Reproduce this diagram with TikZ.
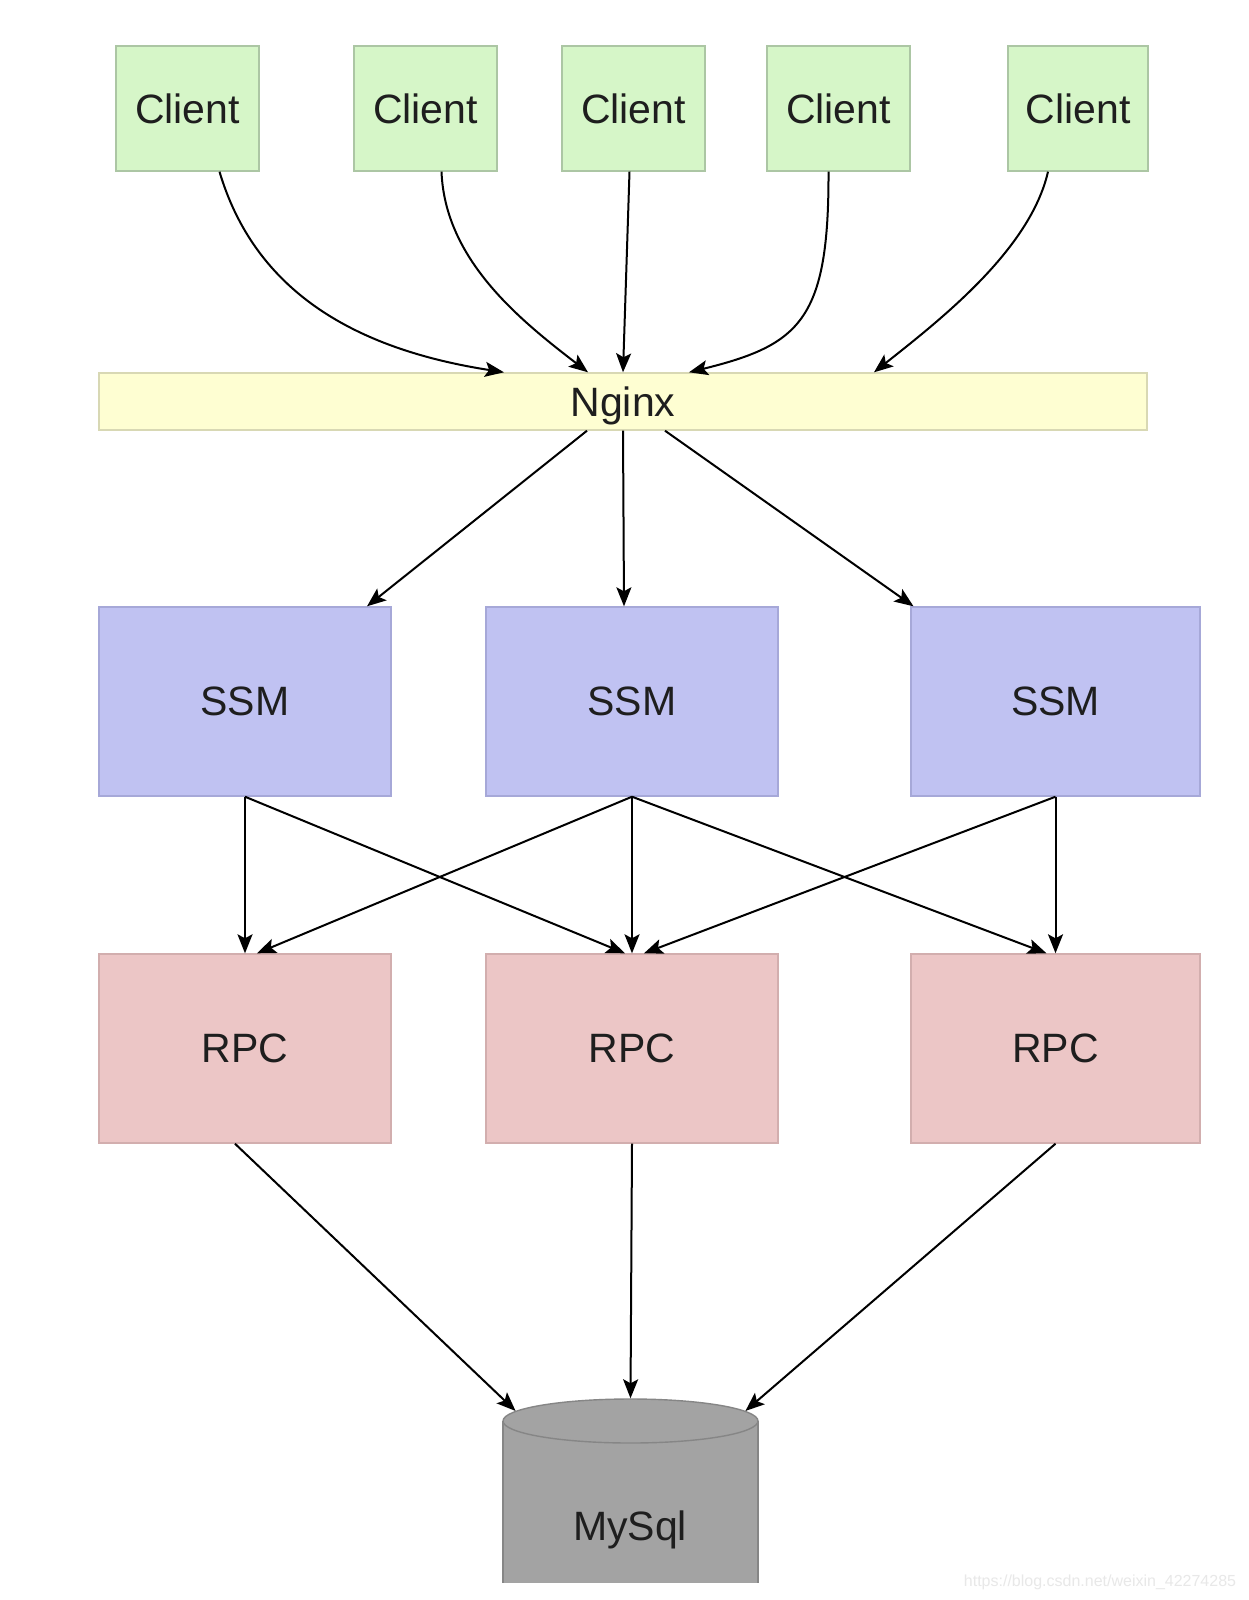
\documentclass[tikz,border=0pt]{standalone}
\usepackage{fontspec}
\setmainfont{Liberation Sans}
\usetikzlibrary{arrows.meta,shapes.geometric}
\definecolor{clientfill}{HTML}{D6F6C8}
\definecolor{clientedge}{HTML}{ACC6A4}
\definecolor{nginxfill}{HTML}{FEFED2}
\definecolor{nginxedge}{HTML}{D8D8B4}
\definecolor{ssmfill}{HTML}{C0C2F2}
\definecolor{ssmedge}{HTML}{A6A8D8}
\definecolor{rpcfill}{HTML}{ECC6C6}
\definecolor{rpcedge}{HTML}{D2AEAE}
\definecolor{dbfill}{HTML}{A3A3A3}
\definecolor{dbedge}{HTML}{868686}
\definecolor{txt}{HTML}{1E1E1E}
\definecolor{wm}{HTML}{E8E8E8}
\begin{document}
\begin{tikzpicture}[x=0.5pt,y=-0.5pt,
  box/.style={draw, line width=0.7pt, inner sep=0pt, text=txt,
    font=\fontsize{20.5pt}{24pt}\selectfont},
  clientbox/.style={box, fill=clientfill, draw=clientedge, minimum width=71.5pt, minimum height=62.5pt},
  nginxbox/.style={box, fill=nginxfill, draw=nginxedge, minimum width=524pt, minimum height=28.5pt, text depth=0pt},
  ssmbox/.style={box, fill=ssmfill, draw=ssmedge, minimum width=146pt, minimum height=94.5pt},
  rpcbox/.style={box, fill=rpcfill, draw=rpcedge, minimum width=146pt, minimum height=94.5pt},
  arr/.style={-{Stealth[length=9.5pt,width=7.5pt,inset=2pt]}, line width=1pt, black}
]
\useasboundingbox (0,0) rectangle (1248,1600);
\fill[white] (0,0) rectangle (1248,1600);

% clients
\node[clientbox] (c1) at (187.5,108.5) {Client};
\node[clientbox] (c2) at (425.5,108.5) {Client};
\node[clientbox] (c3) at (633.5,108.5) {Client};
\node[clientbox] (c4) at (838.5,108.5) {Client};
\node[clientbox, minimum width=70pt] (c5) at (1078,108.5) {Client};

% nginx
\node[nginxbox] (ngx) at (623,401.5) {Nginx};

% SSM
\node[ssmbox] (s1) at (245,701.5) {SSM};
\node[ssmbox] (s2) at (632,701.5) {SSM};
\node[ssmbox, minimum width=144.5pt] (s3) at (1055.5,701.5) {SSM};

% RPC
\node[rpcbox] (r1) at (245,1048.5) {RPC};
\node[rpcbox] (r2) at (632,1048.5) {RPC};
\node[rpcbox, minimum width=144.5pt] (r3) at (1055.5,1048.5) {RPC};

% MySql cylinder
\fill[dbfill] (503,1421) rectangle (758,1583);
\draw[dbedge, line width=0.7pt] (503,1421) -- (503,1583);
\draw[dbedge, line width=0.7pt] (758,1421) -- (758,1583);
\node[ellipse, draw=dbedge, fill=dbfill, line width=0.7pt, inner sep=0pt,
  minimum width=127.5pt, minimum height=22pt] (dbtop) at (630.5,1421) {};
\node[text=txt, font=\fontsize{20.5pt}{24pt}\selectfont] (dbtxt) at (630,1530) {MySql};

% clients -> nginx
\draw[arr] ([xshift=16pt]c1.south) .. controls (255,291) and (354,349) .. ([xshift=-59.5pt]ngx.north);
\draw[arr] ([xshift=8pt]c2.south) .. controls (445,260) and (520,320) .. ([xshift=-17.5pt]ngx.north);
\draw[arr] ([xshift=-2pt]c3.south) -- (ngx.north);
\draw[arr] ([xshift=-5pt]c4.south) .. controls (829,320) and (800,345) .. ([xshift=33pt]ngx.north);
\draw[arr] ([xshift=-15pt]c5.south) .. controls (1030,250) and (940,320) .. ([xshift=125.5pt]ngx.north);

% nginx -> SSM
\draw[arr] ([xshift=-18pt]ngx.south) -- ([xshift=61pt]s1.north);
\draw[arr] (ngx.south) -- ([xshift=-4pt]s2.north);
\draw[arr] ([xshift=21pt]ngx.south) -- ([xshift=-71pt]s3.north);

% SSM -> RPC
\draw[arr] (s1.south) -- (r1.north);
\draw[arr] (s1.south) -- ([xshift=-3.5pt]r2.north);
\draw[arr] (s2.south) -- ([xshift=6pt]r1.north);
\draw[arr] (s2.south) -- (r2.north);
\draw[arr] (s2.south) -- ([xshift=-4.5pt]r3.north);
\draw[arr] (s3.south) -- ([xshift=6pt]r2.north);
\draw[arr] (s3.south) -- (r3.north);

% RPC -> MySql
\draw[arr] ([xshift=-5pt]r1.south) -- (dbtop.175);
\draw[arr] (r2.south) -- (dbtop.north);
\draw[arr] (r3.south) -- (dbtop.5);

% watermark
\node[text=wm, font=\fontsize{8pt}{10pt}\selectfont] (wmk) at (1100,1582) {https://blog.csdn.net/weixin\_42274285};
\end{tikzpicture}
\end{document}
